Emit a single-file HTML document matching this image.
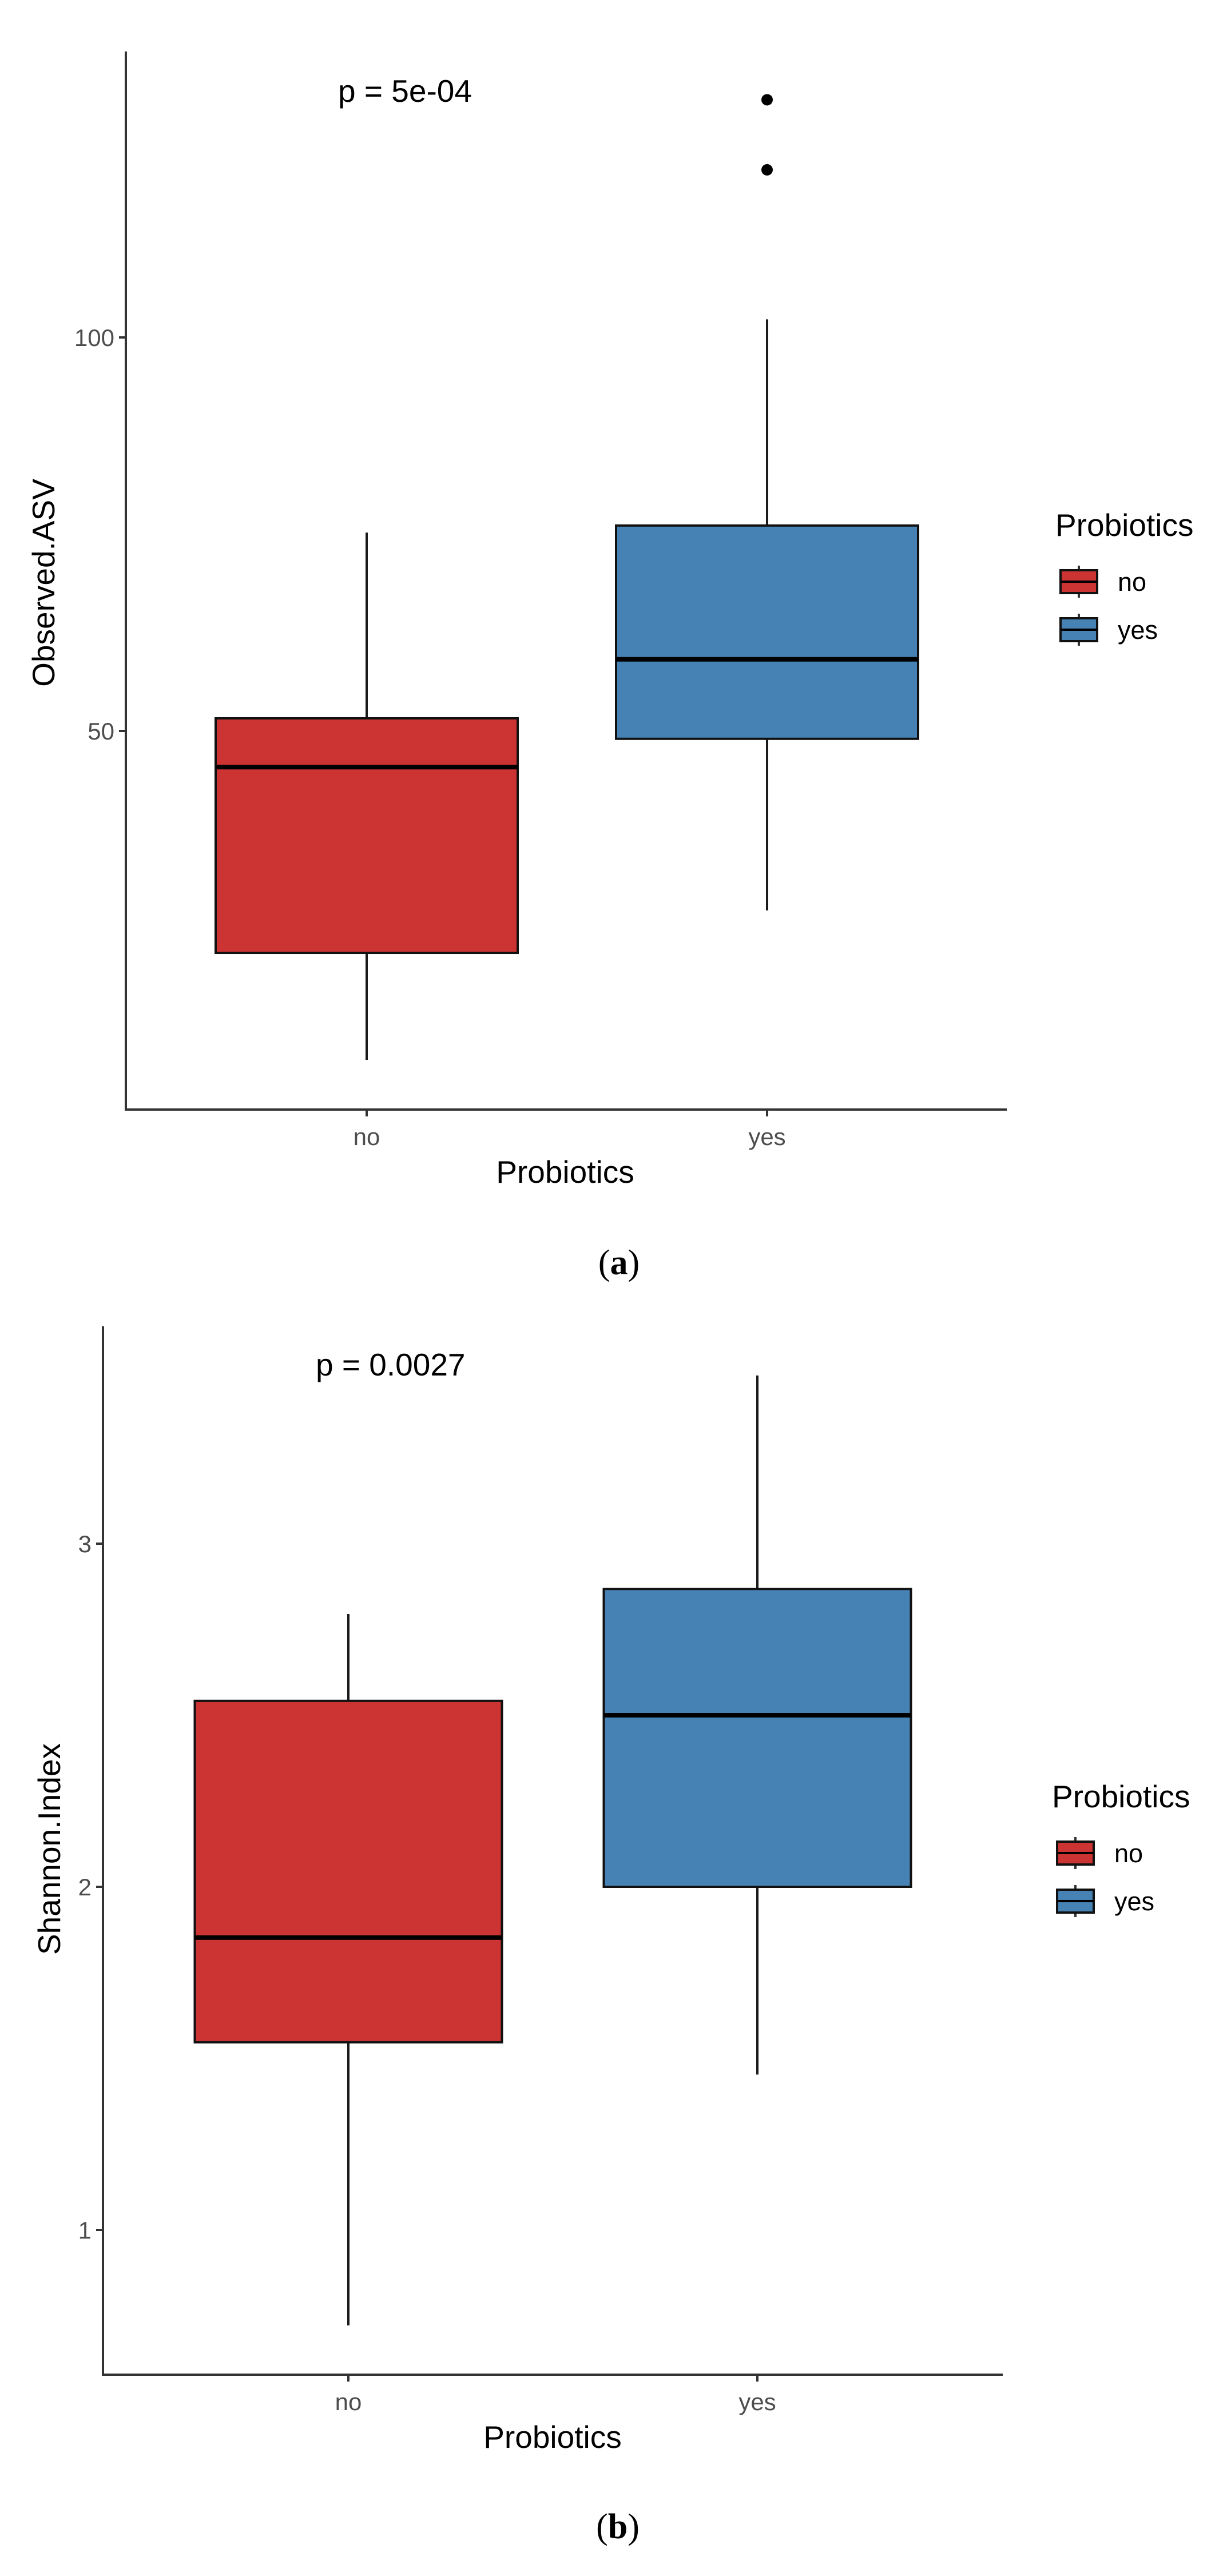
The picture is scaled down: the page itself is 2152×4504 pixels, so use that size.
<!DOCTYPE html>
<html><head><meta charset="utf-8"><style>
html,body{margin:0;padding:0;background:#fff;}
svg{display:block;font-family:"Liberation Sans",Arial,sans-serif;}
</style></head><body>
<svg id="fig" width="2152" height="4504" viewBox="0 0 2152 4504" xmlns="http://www.w3.org/2000/svg">
<rect width="2152" height="4504" fill="#fff"/>
</svg>
<script>
const categories = ["no","yes"];
const colors = ["#CC3333","#4682B4"];
// Panel a: Observed ASV  [whiskerLow, Q1, median, Q3, whiskerHigh]
const asvStats = [[8.2,21.8,45.4,51.6,75.2],[27.2,49.0,59.1,76.1,102.3]];
const asvOutliers = [[],[121.3,130.2]];
const asvTicks = [50,100];
// Panel b: Shannon index
const shStats = [[0.722,1.547,1.852,2.542,2.795],[1.453,2.0,2.50,2.868,3.49]];
const shOutliers = [[],[]];
const shTicks = [1,2,3];

const NS="http://www.w3.org/2000/svg";
const svg=document.getElementById('fig');
function mk(tag,attrs,parent,text){const e=document.createElementNS(NS,tag);for(const k in attrs)e.setAttribute(k,attrs[k]);if(text!==undefined)e.textContent=text;(parent||svg).appendChild(e);return e;}

function panel(cfg){
  const g=mk('g',{});
  
  
  const y=v=>cfg.y0px+(v-cfg.y0v)*(cfg.y1px-cfg.y0px)/(cfg.y1v-cfg.y0v);
  const hw=cfg.boxW/2;
  cfg.stats.forEach((s,i)=>{
    const cx=cfg.xc[i];
    const bg=mk('g',{},g);
    
    
    mk('line',{x1:cx,x2:cx,y1:y(s[3]),y2:y(s[4]),stroke:'#1a1a1a','stroke-width':4},bg);
    mk('line',{x1:cx,x2:cx,y1:y(s[0]),y2:y(s[1]),stroke:'#1a1a1a','stroke-width':4},bg);
    mk('rect',{x:cx-hw,y:y(s[3]),width:cfg.boxW,height:y(s[1])-y(s[3]),fill:colors[i],stroke:'#111','stroke-width':4},bg);
    mk('line',{x1:cx-hw,x2:cx+hw,y1:y(s[2]),y2:y(s[2]),stroke:'#000','stroke-width':8},bg);
    cfg.out[i].forEach(v=>{
      const c=mk('circle',{cx:cx,cy:y(v),r:10,fill:'#000'},bg);
      
      
    });
  });
  const ax=mk('path',{d:`M${cfg.ax} ${cfg.top} V${cfg.bot} H${cfg.right}`,fill:'none',stroke:'#333','stroke-width':4},g);
  
  
  cfg.ticks.forEach(t=>{
    mk('line',{x1:cfg.ax-12,x2:cfg.ax,y1:y(t),y2:y(t),stroke:'#333','stroke-width':4},g);
    const l=mk('text',{x:cfg.ax-20,y:y(t)+15,'text-anchor':'end','font-size':42,fill:'#4d4d4d'},g,String(t));
    
    
  });
  categories.forEach((c,i)=>{
    mk('line',{x1:cfg.xc[i],x2:cfg.xc[i],y1:cfg.bot,y2:cfg.bot+12,stroke:'#333','stroke-width':4},g);
    const l=mk('text',{x:cfg.xc[i],y:cfg.bot+62,'text-anchor':'middle','font-size':42,fill:'#4d4d4d'},g,c);
    
    
  });
  const xt=mk('text',{x:cfg.xTitleX,y:cfg.bot+128,'text-anchor':'middle','font-size':55,fill:'#000'},g,'Probiotics');
  
  
  const yt=mk('text',{x:0,y:0,'text-anchor':'middle','font-size':55,fill:'#000',transform:`translate(${cfg.yTitleX},${cfg.yTitleY}) rotate(-90)`},g,cfg.yTitle);
  
  
  const p=mk('text',{x:cfg.pX,y:cfg.pY,'font-size':55,fill:'#000'},g,cfg.pText);
  
  
  const lg=mk('g',{},g);
  
  
  mk('text',{x:cfg.lx-9,y:cfg.ly,'font-size':55,fill:'#000'},lg,'Probiotics');
  categories.forEach((c,i)=>{
    const ky=cfg.ly+58+i*84;
    const e=mk('g',{},lg);
    
    
    mk('line',{x1:cfg.lx+32,x2:cfg.lx+32,y1:ky-6,y2:ky+50,stroke:'#333','stroke-width':4},e);
    mk('rect',{x:cfg.lx,y:ky+2,width:64,height:40,fill:colors[i],stroke:'#111','stroke-width':4},e);
    mk('line',{x1:cfg.lx,x2:cfg.lx+64,y1:ky+22,y2:ky+22,stroke:'#000','stroke-width':4},e);
    mk('text',{x:cfg.lx+100,y:ky+38,'font-size':45,fill:'#000'},e,c);
  });
  const cap=mk('text',{x:cfg.capX,y:cfg.capY,'text-anchor':'middle','font-size':62,'font-family':'"Liberation Serif",serif',fill:'#000'},g);
  
  
  mk('tspan',{},cap,'(');
  mk('tspan',{'font-weight':'bold'},cap,cfg.cap);
  mk('tspan',{},cap,')');
}

panel({name:'panel-a-observed-asv',stats:asvStats,out:asvOutliers,ticks:asvTicks,
  y0v:50,y0px:1278,y1v:100,y1px:590,xc:[641,1341],boxW:528,
  ax:220,top:90,bot:1940,right:1760,xTitleX:988,yTitle:'Observed.ASV',yTitleX:95,yTitleY:1019,
  pText:'p = 5e-04',pX:591,pY:178,lx:1854,ly:937,capX:1082,capY:2228,cap:'a'});
panel({name:'panel-b-shannon-index',stats:shStats,out:shOutliers,ticks:shTicks,
  y0v:2,y0px:3299,y1v:3,y1px:2699,xc:[609,1324],boxW:537,
  ax:180,top:2319,bot:4152,right:1753,xTitleX:966,yTitle:'Shannon.Index',yTitleX:105,yTitleY:3233,
  pText:'p = 0.0027',pX:552,pY:2405,lx:1848,ly:3160,capX:1080,capY:4438,cap:'b'});
</script>
</body></html>
